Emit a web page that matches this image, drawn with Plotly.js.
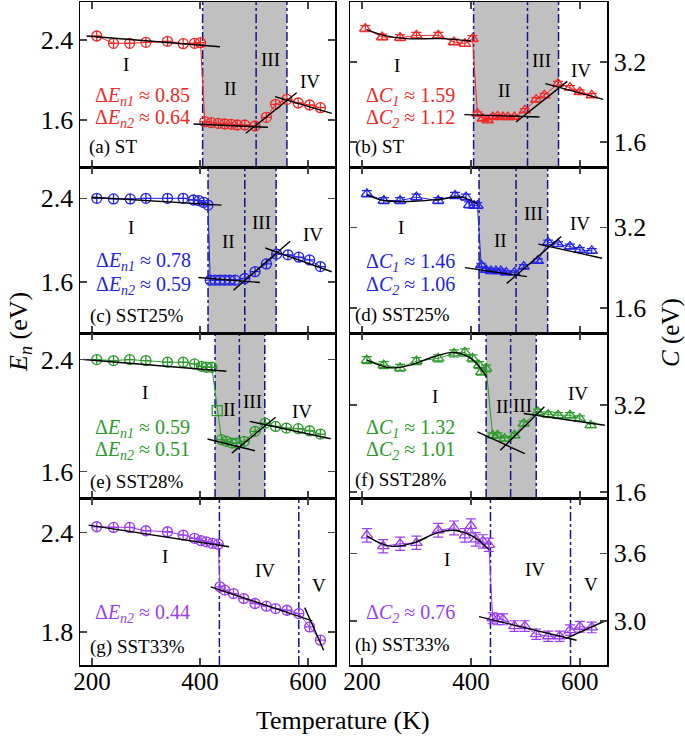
<!DOCTYPE html>
<html><head><meta charset="utf-8">
<script src="https://cdn.plot.ly/plotly-3.0.1.min.js"></script>
<style>body{margin:0;padding:0;background:#fff}#chart{width:685px;height:737px}</style>
</head><body><div id="chart"></div><script>
// ---------- data ----------
const T_a = [209,240,270,300,340,369,390,401, 409,421,434,446,458,469,483,502, 523,540,561,582,603,623];
const E_a = [2.44,2.367,2.367,2.377,2.387,2.363,2.367,2.373, 1.583,1.573,1.567,1.56,1.557,1.55,1.55,1.54, 1.627,1.757,1.807,1.77,1.75,1.723];
const T_b = [206,237,270,300,340,369,389,403, 412,422,431,440,449,459,468,480, 499,520,535,560,582,600,622];
const C_b = [3.867,3.7,3.687,3.733,3.733,3.6,3.567,3.667, 2.167,2.067,2.033,2.1,2.113,2.1,2.1,2.1, 2.233,2.447,2.533,2.767,2.687,2.6,2.533];
const T_c = [209,240,271,300,340,369,388,398,407,415, 419,428,437,446,455,465,483, 502,523,542,563,583,603,623];
const E_c = [2.4,2.394,2.394,2.4,2.4,2.4,2.384,2.377,2.361,2.335, 1.616,1.616,1.616,1.616,1.616,1.616,1.632, 1.697,1.772,1.866,1.859,1.836,1.81,1.746];
const T_d = [209,240,270,300,340,371,391,397,406,412, 419,428,437,446,455,465,480, 497,523,542,560,582,600,622];
const C_d = [3.867,3.733,3.733,3.8,3.733,3.833,3.8,3.647,3.633,3.633, 2.447,2.353,2.333,2.333,2.333,2.3,2.3, 2.42,2.533,2.9,2.867,2.82,2.753,2.733];
const T_e = [209,240,270,300,340,369,390,403,412,422, 432, 440,449,459,468,482, 502,521,540,560,582,603,623];
const E_e = [2.4,2.393,2.4,2.393,2.381,2.381,2.369,2.352,2.345,2.345, 2.035, 1.827,1.815,1.803,1.803,1.815, 1.887,1.946,1.922,1.91,1.906,1.891,1.867];
const T_f = [209,240,270,300,340,369,389,403,415,419,428, 440,449,462,480, 497,523,542,560,582,600,620];
const C_f = [4.031,3.938,3.889,4.012,4.062,4.154,4.172,4.062,3.938,3.815,3.877, 2.646,2.646,2.585,2.646, 2.862,3.077,3.028,3.015,3.015,2.954,2.831];
const T_g = [209,240,270,300,340,369,390,402,412,423,434, 437,446,462,481,502,523,540,561,583, 603,623];
const E_g = [2.436,2.432,2.432,2.412,2.406,2.386,2.366,2.352,2.345,2.335,2.331, 2.073,2.053,2.032,2.002,1.972,1.956,1.941,1.931,1.911, 1.83,1.75];
const T_h = [209,239,270,300,340,369,389,400,409,422,433, 440,449,459,480,499,520,542,563,582,600,622];
const C_h = [3.759,3.663,3.684,3.693,3.804,3.825,3.759,3.843,3.723,3.705,3.675, 3.024,3.015,3.015,2.955,2.955,2.883,2.865,2.865,2.919,2.949,2.943];

// linear fits (segments separated by null)
const fitA_T = [190,437,null,388,526,null,485,579,null,539,644];
const fitA_E = [2.44,2.333,null,1.56,1.527,null,1.467,1.873,null,1.833,1.667];
const fitB_T = [388,526,null,483,577,null,537,643];
const fitB_C = [2.147,2.1,null,2.0,2.813,null,2.767,2.453];
const fitC_T = [200,440,null,397,511,null,462,567,null,521,644];
const fitC_E = [2.41,2.335,null,1.642,1.594,null,1.519,1.989,null,1.924,1.697];
const fitD_T = [389,503,null,466,566,null,524,641];
const fitD_C = [2.4,2.22,null,2.087,3.02,null,2.867,2.587];
const fitE_T = [185,449,null,414,502,null,459,540,null,492,642];
const fitE_E = [2.4,2.316,null,1.832,1.748,null,1.731,1.987,null,1.958,1.834];
const fitF_T = [412,499,null,454,535,null,497,646];
const fitF_C = [2.708,2.308,null,2.369,3.169,null,3.046,2.831];
const fitG_T = [194,454,null,420,608,null,594,629];
const fitG_E = [2.446,2.315,null,2.073,1.867,null,1.947,1.689];
const fitH_T = [415,594,null,574,646];
const fitH_C = [3.039,2.829,null,2.844,3.0];
// smooth curves in region I
const curveB_T = [209,240,283,345,400];
const curveB_C = [3.847,3.733,3.667,3.667,3.62];
const curveD_T = [209,240,283,339,382,412];
const curveD_C = [3.847,3.733,3.713,3.753,3.8,3.667];
const curveF_T = [209,252,289,332,369,400,429];
const curveF_C = [4.031,3.889,3.938,4.092,4.172,4.062,3.723];
const curveH_T = [209,252,295,339,369,406,433];
const curveH_C = [3.753,3.663,3.693,3.783,3.804,3.744,3.633];

// region boundaries (K)
const bounds_ST = [405,504,561];
const bounds_25 = [415,483,541];
const bounds_28 = [428,473,520];
const bounds_33 = [436,583];

// panel labels and changes
const panelTags = ['(a) ST','(b) ST','(c) SST25%','(d) SST25%','(e) SST28%','(f) SST28%','(g) SST33%','(h) SST33%'];
const dEn1 = [0.85,0.78,0.59];
const dEn2 = [0.64,0.59,0.51,0.44];
const dC1 = [1.59,1.46,1.32];
const dC2 = [1.12,1.06,1.01,0.76];

const RED='#f02828', BLUE='#2323e6', GREEN='#2b9a2b', VIOLET='#9a3cf0';
const FONT='Liberation Serif';

const traces = [];
const shapes = [];
const ann = [];

function panel(n, T, V, fT, fV, cT, cV, color, tri, syms){
  const xa = n===1?'x':'x'+n, ya = n===1?'y':'y'+n;
  const tr = {x:T, y:V, xaxis:xa, yaxis:ya, mode:'lines+markers', type:'scatter',
    line:{color:color, width:1},
    marker:{symbol: syms || (tri?'triangle-up-open':'circle-cross-open'), size:10, color:color, line:{color:color, width:1.3}},
    showlegend:false, hoverinfo:'skip'};
  if (tri) tr.error_y = {type:'percent', value:1.6, color:color, thickness:1.2, width:5};
  traces.push(tr);
  if (cT) traces.push({x:cT, y:cV, xaxis:xa, yaxis:ya, mode:'lines', line:{color:'#000', width:1.4, shape:'spline'}, showlegend:false, hoverinfo:'skip'});
  traces.push({x:fT, y:fV, xaxis:xa, yaxis:ya, mode:'lines', line:{color:'#000', width:1.4}, showlegend:false, hoverinfo:'skip', connectgaps:false});
}
function regions(n, b, shade){
  const xa = n===1?'x':'x'+n, ya = (n===1?'y':'y'+n)+' domain';
  if (shade) shapes.push({type:'rect', xref:xa, yref:ya, x0:b[0], x1:b[b.length-1], y0:0, y1:1, fillcolor:'#c0c0c0', line:{width:0}, layer:'below'});
  b.forEach(v=>shapes.push({type:'line', xref:xa, yref:ya, x0:v, x1:v, y0:0, y1:1, line:{color:'#14148c', width:1.5, dash:'dashdot'}, layer:'below'}));
}
function label(n, t, x, y, color, size, anchor){
  const xa = n===1?'x':'x'+n, ya = n===1?'y':'y'+n;
  ann.push({xref:xa, yref:ya, x:x, y:y, text:t, showarrow:false, xanchor:anchor||'center', yanchor:'middle',
    font:{family:FONT, size:size||18, color:color||'#000'}});
}

panel(1,T_a,E_a,fitA_T,fitA_E,null,null,RED,false);
panel(2,T_b,C_b,fitB_T,fitB_C,curveB_T,curveB_C,RED,true);
panel(3,T_c,E_c,fitC_T,fitC_E,null,null,BLUE,false);
panel(4,T_d,C_d,fitD_T,fitD_C,curveD_T,curveD_C,BLUE,true);
const symE = T_e.map((t,i)=> i===10?'square-open':'circle-cross-open');
panel(5,T_e,E_e,fitE_T,fitE_E,null,null,GREEN,false,symE);
panel(6,T_f,C_f,fitF_T,fitF_C,curveF_T,curveF_C,GREEN,true);
panel(7,T_g,E_g,fitG_T,fitG_E,null,null,VIOLET,false);
panel(8,T_h,C_h,fitH_T,fitH_C,curveH_T,curveH_C,VIOLET,true);

regions(1,bounds_ST,true); regions(2,bounds_ST,true);
regions(3,bounds_25,true); regions(4,bounds_25,true);
regions(5,bounds_28,true); regions(6,bounds_28,true);
regions(7,bounds_33,false); regions(8,bounds_33,false);

// roman numerals
[[1,[[264,2.15,'I'],[456,1.917,'II'],[531,2.2,'III'],[604,1.983,'IV']]],
 [2,[[265,3.133,'I'],[461,2.633,'II'],[529,3.233,'III'],[603,3.033,'IV']]],
 [3,[[272,2.118,'I'],[452,1.989,'II'],[514,2.167,'III'],[609,2.053,'IV']]],
 [4,[[272,3.2,'I'],[455,2.933,'II'],[515,3.467,'III'],[600,3.267,'IV']]],
 [5,[[298,2.161,'I'],[455,2.042,'II'],[498,2.097,'III'],[588,2.03,'IV']]],
 [6,[[334,3.354,'I'],[458,3.169,'II'],[495,3.2,'III'],[597,3.415,'IV']]],
 [7,[[335,2.255,'I'],[520,2.174,'IV'],[621,2.083,'V']]],
 [8,[[356,3.549,'I'],[518,3.459,'IV'],[620,3.324,'V']]]
].forEach(([n,list])=>list.forEach(([x,y,t])=>label(n,t,x,y,'#000',19)));

const dE = (k,v)=>'Δ<i>E</i><sub><i>n'+k+'</i></sub> ≈ '+v.toFixed(2);
const dC = (k,v)=>'Δ<i>C</i><sub><i>'+k+'</i></sub> ≈ '+v.toFixed(2);
label(1,dE(1,dEn1[0]),202,1.833,RED,20,'left'); label(1,dE(2,dEn2[0]),202,1.617,RED,20,'left');
label(2,dC(1,dC1[0]),203,2.5,RED,20,'left');    label(2,dC(2,dC2[0]),203,2.067,RED,20,'left');
label(3,dE(1,dEn1[1]),204,1.794,BLUE,20,'left'); label(3,dE(2,dEn2[1]),204,1.568,BLUE,20,'left');
label(4,dC(1,dC1[1]),203,2.5,BLUE,20,'left');    label(4,dC(2,dC2[1]),203,2.047,BLUE,20,'left');
label(5,dE(1,dEn1[2]),202,1.910,GREEN,20,'left'); label(5,dE(2,dEn2[2]),202,1.748,GREEN,20,'left');
label(6,dC(1,dC1[2]),203,2.769,GREEN,20,'left');  label(6,dC(2,dC2[2]),203,2.369,GREEN,20,'left');
label(7,dE(2,dEn2[3]),202,1.911,VIOLET,20,'left');
label(8,dC(2,dC2[3]),203,3.069,VIOLET,20,'left');

const tagPos = [[191,1.333],[184,1.5],[192,1.276],[184,1.467],[192,1.528],[184,1.815],[192,1.709],[184,2.784]];
panelTags.forEach((t,i)=>label(i+1,t,tagPos[i][0],tagPos[i][1],'#000',19,'left'));

// global titles
ann.push({xref:'paper',yref:'paper',x:343/685,y:1-720/737,xanchor:'center',yanchor:'middle',text:'Temperature (K)',showarrow:false,font:{family:FONT,size:26,color:'#000'}});
ann.push({xref:'paper',yref:'paper',x:20/685,y:1-332/737,xanchor:'center',yanchor:'middle',text:'<i>E</i><sub><i>n</i></sub> (eV)',textangle:-90,showarrow:false,font:{family:FONT,size:26,color:'#000'}});
ann.push({xref:'paper',yref:'paper',x:671/685,y:1-333/737,xanchor:'center',yanchor:'middle',text:'<i>C</i> (eV)',textangle:-90,showarrow:false,font:{family:FONT,size:25,color:'#000'}});

const colX = [[80/685,335/685],[350/685,607/685]];
const rowY = [[1-167/737,1-2/737],[1-333/737,1-167/737],[1-498/737,1-333/737],[1-665/737,1-498/737]];
const yRanges = [[1.13,2.78],[1.1,4.4],[1.11,2.70],[1.1,4.4],[1.41,2.59],[1.49,4.53],[1.6,2.61],[2.61,4.09]];
const yDt = [0.8,1.6,0.8,1.6,0.8,1.6,0.6,0.6];

const layout = {width:685,height:737,margin:{l:0,r:0,t:0,b:0},paper_bgcolor:'#fff',plot_bgcolor:'rgba(0,0,0,0)',
  font:{family:FONT,size:24,color:'#000'},showlegend:false,shapes:shapes,annotations:ann};
for (let n=1;n<=8;n++){
  const col=(n-1)%2, row=Math.floor((n-1)/2);
  const xk = n===1?'xaxis':'xaxis'+n, yk = n===1?'yaxis':'yaxis'+n;
  const yname = n===1?'y':'y'+n, xname = n===1?'x':'x'+n;
  layout[xk] = {domain:colX[col], anchor:yname, range:[178,650], tick0:0, dtick:200, ticks:'inside', ticklen:7, tickwidth:1.5,
    showline:true, mirror:'ticks', linecolor:'#000', linewidth:1.5, showgrid:false, zeroline:false,
    showticklabels: row===3, ticklabelposition:'outside', ticklabelstandoff:-7, tickfont:{family:FONT,size:25,color:'#000'}};
  layout[yk] = {domain:rowY[row], anchor:xname, range:yRanges[n-1], tick0:0, dtick:yDt[n-1], tickformat:'.1f',
    side: col===0?'left':'right', ticks:'inside', ticklen:7, tickwidth:1.5,
    showline:true, mirror:'ticks', linecolor:'#000', linewidth:1.5, showgrid:false, zeroline:false,
    tickfont:{family:FONT,size:26,color:'#000'}};
}
Plotly.newPlot('chart', traces, layout, {staticPlot:true, displayModeBar:false});
</script></body></html>
